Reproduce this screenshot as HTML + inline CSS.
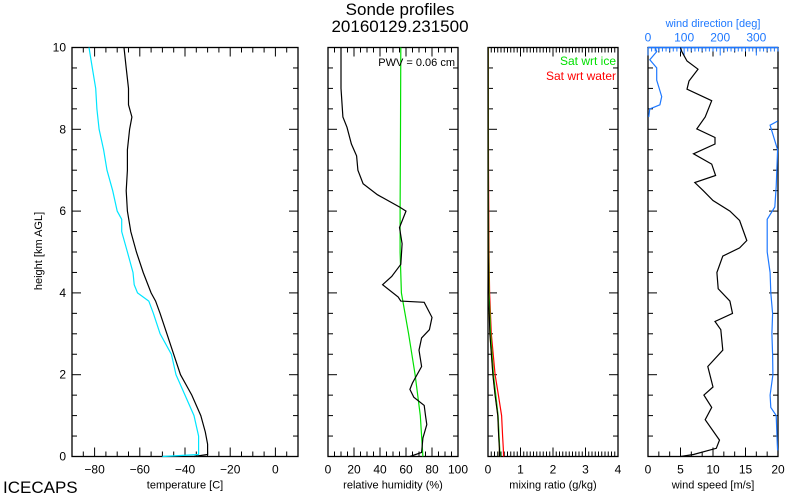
<!DOCTYPE html>
<html><head><meta charset="utf-8">
<style>
html,body{margin:0;padding:0;background:#fff;}
svg{display:block;font-family:"Liberation Sans",sans-serif;}
</style></head>
<body>
<svg id="c" width="800" height="500" viewBox="0 0 800 500">
<text x="400" y="15" font-size="17" text-anchor="middle">Sonde profiles</text>
<text x="400" y="32" font-size="17" text-anchor="middle">20160129.231500</text>
<text x="3" y="493" font-size="17">ICECAPS</text>
<text transform="translate(42,251) rotate(-90)" font-size="11" text-anchor="middle">height [km AGL]</text>
<g id="g"></g>
</svg>
<script>
// ---- data (height in km) ----
const tempH = [0,0.05,0.3,0.6,1,1.5,2,2.5,3,3.5,3.8,4,4.5,5,5.5,6,6.5,7,7.5,8,8.3,8.6,9,9.5,10];
const tempV = [-36,-30,-30,-31,-33,-37,-42,-45,-48,-51,-53,-55,-58.5,-61.5,-64,-65.5,-66,-65.5,-65.5,-64.5,-63.5,-65,-65,-66,-67];
const dewH = [0,0.05,0.5,1,1.5,2,2.5,3,3.5,3.8,4,4.2,4.5,5,5.5,5.8,6,6.5,7,7.5,8,8.5,9,9.5,10];
const dewV = [-50,-34,-34,-36,-40,-44,-46,-51,-54,-56,-61,-62.5,-63,-65.5,-68,-68,-70,-72,-74.5,-76,-78,-79,-79.5,-81,-82.5];
const rhH = [0,0.1,0.45,0.78,1,1.25,1.45,1.64,1.8,2.2,2.6,2.9,3.1,3.4,3.77,3.8,3.9,4.2,4.4,4.7,5.2,5.6,6,6.1,6.4,6.67,7,7.35,7.64,8.05,8.3,9,10];
const rhV = [63,72,73,76,75,74,66,63,65,72,70,72,78,80,74,56,54,42,49,56,57,55,60,55,38,27,23,22,18,14.6,11.5,10,10];
const iceRhH = [0,1,2,3,4,5,6,8,10];
const iceRhV = [73,71,67,62,56.5,55.5,55.5,55.8,56];
const mrH = [0,0.2,0.5,1,1.5,2,3,4,5,7,10];
const mrV = [0.35,0.35,0.33,0.3,0.22,0.15,0.06,0.02,0.01,0.005,0.003];
const mrWaterV = [0.48,0.47,0.45,0.42,0.32,0.22,0.1,0.05,0.03,0.015,0.005];
const mrIceV = [0.37,0.36,0.34,0.31,0.24,0.17,0.08,0.035,0.02,0.01,0.004];
const wsH = [0,0.05,0.2,0.4,0.9,1.2,1.5,1.7,2.2,2.6,3.1,3.3,3.5,3.8,4.1,4.5,4.9,5.1,5.28,5.77,6,6.26,6.5,6.7,6.87,7.15,7.4,7.64,7.8,8.01,8.3,8.7,8.98,9.18,9.47,9.67,9.9,10];
const wsV = [5,7,10.5,11,8.8,9.8,8.6,10,9.2,11.5,11.2,10.3,13,12.6,10.8,10.6,11.5,14.1,15.2,14.1,12.6,10,8.5,7.2,10.4,9.8,7,10.3,10.3,7.5,8.8,9.8,6,6.3,7.7,6,5.2,5];
const wdH = [0,0.15,0.3,1,1.2,1.5,2,2.5,3,3.5,4,4.5,5,5.8,6.1,6.6,7.5,8.1,8.2,8.3,8.5,8.6,8.8,9.2,9.5,9.7,9.9,10];
const wdV = [0,359,358,355,340,338,346,345,343,345,340,338,330,330,351,355,359,338,359,2,5,33,38,24,24,5,24,20];
const tempTicks = [-80,-60,-40,-20,0];
const rhTicks = [0,20,40,60,80,100];
const mrTicks = [0,1,2,3,4];
const wsTicks = [0,5,10,15,20];
const wdTicks = [0,100,200,300];
const hTicks = [0,2,4,6,8,10];

const NS="http://www.w3.org/2000/svg";
const G=document.getElementById('g');
const Y0=456.5, KM=40.9;
const yH = h => Y0 - h*KM;
function mk(tag,attrs,parent){const e=document.createElementNS(NS,tag);for(const k in attrs)e.setAttribute(k,attrs[k]);(parent||G).appendChild(e);return e;}
function sx(x0,x1,v0,v1){return v=>x0+(v-v0)/(v1-v0)*(x1-x0);}

function line(xs,hs,fx,color,name,wrap){
  let segs=[[]];
  for(let i=0;i<xs.length;i++){
    if(wrap&&i>0&&Math.abs(xs[i]-xs[i-1])>180)segs.push([]);
    segs[segs.length-1].push(fx(xs[i]).toFixed(1)+','+yH(hs[i]).toFixed(1));
  }
  segs.forEach(s=>{if(s.length<2)return;
    const p=mk('polyline',{points:s.join(' '),fill:'none',stroke:color,'stroke-width':1.2});
    
    
  });
}

function panel(x0,x1,v0,v1,ticks,minor,title,name,leftLabels){
  const fx=sx(x0,x1,v0,v1);
  const r=mk('rect',{x:x0,y:yH(10),width:x1-x0,height:Y0-yH(10),fill:'none',stroke:'#000','stroke-width':1.3});
  
  
  for(let v=v0;v<=v1+1e-9;v+=minor){
    const x=fx(v);const maj=ticks.some(t=>Math.abs(t-v)<1e-6);const L=maj?9:5;
    mk('line',{x1:x,x2:x,y1:Y0,y2:Y0-L,stroke:'#000'});
    mk('line',{x1:x,x2:x,y1:yH(10),y2:yH(10)+L,stroke:'#000'});
  }
  ticks.forEach(t=>{const e=mk('text',{x:fx(t),y:Y0+17,'font-size':12,'text-anchor':'middle'});e.textContent=(t<0?'\u2212'+(-t):t);
    
    });
  for(let h=0;h<=10;h+=0.5){const maj=h%2===0;const L=maj?9:5;
    mk('line',{x1:x0,x2:x0+L,y1:yH(h),y2:yH(h),stroke:'#000'});
    mk('line',{x1:x1,x2:x1-L,y1:yH(h),y2:yH(h),stroke:'#000'});}
  if(leftLabels)hTicks.forEach(h=>{const e=mk('text',{x:x0-6,y:yH(h)+4,'font-size':12,'text-anchor':'end'});e.textContent=h;
    
    });
  const t=mk('text',{x:(x0+x1)/2,y:Y0+32,'font-size':11,'text-anchor':'middle'});t.textContent=title;
  
  
  return fx;
}

// Panel 1 temperature
const fT=panel(72,298,-90,10,tempTicks,5,'temperature [C]','temperature',true);
line(dewV,dewH,fT,'#00e5ff','dewpoint-line');
line(tempV,tempH,fT,'#000','temperature-line');

// Panel 2 RH
const fR=panel(328,458,0,100,rhTicks,5,'relative humidity (%)','humidity',false);
line(iceRhV,iceRhH,fR,'#00e000','rh-sat-ice-line');
line(rhV,rhH,fR,'#000','rh-line');
let t=mk('text',{x:455,y:66,'font-size':11,'text-anchor':'end'});t.textContent='PWV = 0.06 cm';



// Panel 3 mixing ratio
const fM=panel(488,618,0,4,mrTicks,0.1,'mixing ratio (g/kg)','mixing-ratio',false);
line(mrWaterV,mrH,fM,'#ff0000','mr-sat-water-line');
line(mrIceV,mrH,fM,'#00e000','mr-sat-ice-line');
line(mrV,mrH,fM,'#ffee00','mr-yellow-line');
line(mrV,mrH,fM,'#000','mixing-ratio-line');
t=mk('text',{x:616,y:65,'font-size':12,'text-anchor':'end',fill:'#00e000'});t.textContent='Sat wrt ice';


t=mk('text',{x:616,y:80,'font-size':12,'text-anchor':'end',fill:'#ff0000'});t.textContent='Sat wrt water';



// Panel 4 wind
const fW=panel(648,778,0,20,wsTicks,5/3,'wind speed [m/s]','wind-speed',false);
const fD=sx(648,778,0,360);
mk('line',{x1:648,x2:778,y1:yH(10),y2:yH(10),stroke:'#1e78ff','stroke-width':1.5});
for(let v=0;v<=360;v+=10){const maj=v%100===0;mk('line',{x1:fD(v),x2:fD(v),y1:yH(10),y2:yH(10)+(maj?8:4),stroke:'#1e78ff'});}
wdTicks.forEach(v=>{const e=mk('text',{x:fD(v),y:yH(10)-6,'font-size':12,'text-anchor':'middle',fill:'#1e78ff'});e.textContent=v;
  
  });
t=mk('text',{x:713,y:27,'font-size':11,'text-anchor':'middle',fill:'#1e78ff'});t.textContent='wind direction [deg]';


line(wdV,wdH,fD,'#1e78ff','wind-direction-line',true);
line(wsV,wsH,fW,'#000','wind-speed-line');
</script>
</body></html>
